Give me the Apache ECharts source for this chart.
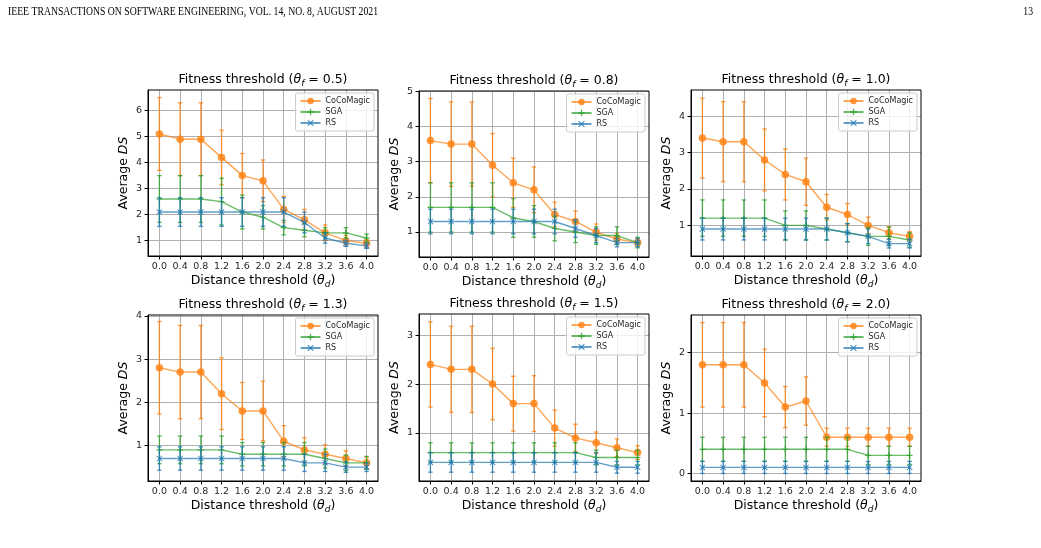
<!DOCTYPE html>
<html>
<head>
<meta charset="utf-8">
<script src="https://cdn.jsdelivr.net/npm/echarts@6/dist/echarts.min.js"></script>
<style>
  html, body { margin: 0; padding: 0; background: #fff; }
  #chart { width: 1041px; height: 548px; }
</style>
</head>
<body>
<div id="chart"></div>
<script>
// distance threshold (x axis) and fitness threshold per panel
const distances = [0.0, 0.4, 0.8, 1.2, 1.6, 2.0, 2.4, 2.8, 3.2, 3.6, 4.0]
const fitnessThresholds = ['0.5', '0.8', '1.0', '1.3', '1.5', '2.0']
const yTicks = [[1, 2, 3, 4, 5, 6], [1, 2, 3, 4, 5], [1, 2, 3, 4], [1, 2, 3, 4], [0, 1, 2, 3], [0, 1, 2]]

// one row per panel
const cocoMeans = [
  [5.1, 4.9, 4.9, 4.2, 3.5, 3.3, 2.2, 1.8, 1.3, 1.0, 0.9],
  [3.6, 3.5, 3.5, 2.9, 2.4, 2.2, 1.5, 1.3, 1.0, 0.8, 0.7],
  [3.4, 3.3, 3.3, 2.8, 2.4, 2.2, 1.5, 1.3, 1.0, 0.8, 0.7],
  [2.8, 2.7, 2.7, 2.2, 1.8, 1.8, 1.1, 0.9, 0.8, 0.7, 0.6],
  [2.4, 2.3, 2.3, 2.0, 1.6, 1.6, 1.1, 0.9, 0.8, 0.7, 0.6],
  [1.8, 1.8, 1.8, 1.5, 1.1, 1.2, 0.6, 0.6, 0.6, 0.6, 0.6]
]
const cocoErrs = [
  [1.4, 1.4, 1.4, 1.05, 0.85, 0.8, 0.5, 0.4, 0.3, 0.2, 0.15],
  [1.2, 1.2, 1.2, 0.9, 0.7, 0.65, 0.35, 0.3, 0.23, 0.15, 0.1],
  [1.1, 1.1, 1.1, 0.85, 0.7, 0.65, 0.35, 0.3, 0.23, 0.17, 0.13],
  [1.07, 1.08, 1.08, 0.83, 0.66, 0.69, 0.36, 0.28, 0.22, 0.18, 0.13],
  [0.87, 0.88, 0.88, 0.73, 0.56, 0.57, 0.37, 0.28, 0.22, 0.18, 0.14],
  [0.7, 0.7, 0.7, 0.56, 0.34, 0.4, 0.15, 0.15, 0.15, 0.15, 0.15]
]
const sgaMeans = [
  [2.6, 2.6, 2.6, 2.5, 2.1, 1.9, 1.5, 1.4, 1.3, 1.3, 1.1],
  [1.7, 1.7, 1.7, 1.7, 1.4, 1.3, 1.1, 1.0, 0.9, 0.9, 0.7],
  [1.2, 1.2, 1.2, 1.2, 1.0, 1.0, 0.9, 0.8, 0.7, 0.7, 0.6],
  [0.9, 0.9, 0.9, 0.9, 0.8, 0.8, 0.8, 0.8, 0.7, 0.6, 0.6],
  [0.6, 0.6, 0.6, 0.6, 0.6, 0.6, 0.6, 0.6, 0.5, 0.5, 0.5],
  [0.4, 0.4, 0.4, 0.4, 0.4, 0.4, 0.4, 0.4, 0.3, 0.3, 0.3]
]
const sgaErrs = [
  [0.9, 0.9, 0.9, 0.9, 0.65, 0.45, 0.28, 0.25, 0.2, 0.2, 0.15],
  [0.7, 0.7, 0.7, 0.7, 0.55, 0.45, 0.35, 0.3, 0.25, 0.25, 0.15],
  [0.5, 0.5, 0.5, 0.5, 0.4, 0.4, 0.3, 0.25, 0.25, 0.25, 0.2],
  [0.32, 0.32, 0.32, 0.32, 0.27, 0.27, 0.27, 0.27, 0.22, 0.18, 0.15],
  [0.2, 0.2, 0.2, 0.2, 0.2, 0.2, 0.2, 0.2, 0.15, 0.15, 0.15],
  [0.2, 0.2, 0.2, 0.2, 0.2, 0.2, 0.2, 0.2, 0.15, 0.15, 0.15]
]
const rsMeans = [
  [2.1, 2.1, 2.1, 2.1, 2.1, 2.1, 2.1, 1.7, 1.1, 0.9, 0.8],
  [1.3, 1.3, 1.3, 1.3, 1.3, 1.3, 1.3, 1.1, 0.9, 0.7, 0.7],
  [0.9, 0.9, 0.9, 0.9, 0.9, 0.9, 0.9, 0.8, 0.7, 0.5, 0.5],
  [0.7, 0.7, 0.7, 0.7, 0.7, 0.7, 0.7, 0.6, 0.6, 0.5, 0.5],
  [0.4, 0.4, 0.4, 0.4, 0.4, 0.4, 0.4, 0.4, 0.4, 0.3, 0.3],
  [0.1, 0.1, 0.1, 0.1, 0.1, 0.1, 0.1, 0.1, 0.1, 0.1, 0.1]
]
const rsErrs = [
  [0.55, 0.55, 0.55, 0.55, 0.55, 0.55, 0.55, 0.4, 0.2, 0.12, 0.1],
  [0.35, 0.35, 0.35, 0.35, 0.35, 0.35, 0.35, 0.25, 0.2, 0.12, 0.12],
  [0.3, 0.3, 0.3, 0.3, 0.3, 0.3, 0.3, 0.25, 0.2, 0.12, 0.12],
  [0.27, 0.27, 0.27, 0.27, 0.27, 0.27, 0.27, 0.2, 0.2, 0.12, 0.1],
  [0.2, 0.2, 0.2, 0.2, 0.2, 0.2, 0.2, 0.2, 0.2, 0.12, 0.12],
  [0.1, 0.1, 0.1, 0.1, 0.1, 0.1, 0.1, 0.1, 0.1, 0.1, 0.1]
]

const chart = echarts.init(document.getElementById('chart'), null, { renderer: 'canvas' })

const FONT = 'DejaVu Sans'
const TXT = '#262626'
// plot boxes: [left, top, width, height]
const boxes = [
  [148, 90, 230, 166], [419, 91, 230, 166], [691, 90, 230, 166],
  [148, 315, 230, 166], [419, 314, 230, 167], [691, 315, 230, 166]
]
const yRanges = [[0.41, 6.79], [0.29, 5.01], [0.16, 4.72], [0.18, 4.02], [0.02, 3.43], [-0.125, 2.625]]

const methods = [
  { name: 'CoCoMagic', color: '#ff7f0e', means: cocoMeans, errs: cocoErrs, symbol: 'circle', size: 7.5 },
  { name: 'SGA', color: '#2ca02c', means: sgaMeans, errs: sgaErrs,
    symbol: 'path://M4,0 L6,0 L6,4 L10,4 L10,6 L6,6 L6,10 L4,10 L4,6 L0,6 L0,4 L4,4 Z', size: 6 },
  { name: 'RS', color: '#1f77b4', means: rsMeans, errs: rsErrs,
    symbol: 'path://M1,0 L5,3.6 L9,0 L10,1 L6.4,5 L10,9 L9,10 L5,6.4 L1,10 L0,9 L3.6,5 L0,1 Z', size: 6 }
]

const richTitle = {
  n: { fontFamily: FONT, fontSize: 12.5, color: '#000', lineHeight: 16 },
  it: { fontFamily: FONT, fontSize: 12.5, fontStyle: 'italic', color: '#000', lineHeight: 16 },
  sub: { fontFamily: FONT, fontSize: 9, fontStyle: 'italic', color: '#000', lineHeight: 9, verticalAlign: 'bottom' }
}

const grid = [], xAxis = [], yAxis = [], series = [], legend = [], graphic = []

boxes.forEach((b, p) => {
  grid.push({ left: b[0], top: b[1], width: b[2], height: b[3], show: false })
  xAxis.push({
    type: 'value', gridIndex: p, min: -0.22, max: 4.22,
    name: '{n|Distance threshold (}{it|θ}{sub|d}{n|)}',
    nameLocation: 'middle', nameGap: 17,
    nameTextStyle: { rich: richTitle },
    axisLine: { show: true, onZero: false, lineStyle: { color: '#000', width: 1 } },
    axisTick: { show: true, length: 3.5, customValues: distances, lineStyle: { color: '#000' } },
    axisLabel: {
      customValues: distances, margin: 6, fontFamily: FONT, fontSize: 9.5, color: TXT,
      formatter: v => v.toFixed(1)
    },
    splitLine: { show: true, lineStyle: { color: '#b0b0b0', width: 1 } }
  })
  yAxis.push({
    type: 'value', gridIndex: p, min: yRanges[p][0], max: yRanges[p][1],
    name: '{n|Average }{it|DS}',
    nameLocation: 'middle', nameGap: 16, nameRotate: 90,
    nameTextStyle: { rich: richTitle },
    axisLine: { show: true, onZero: false, lineStyle: { color: '#000', width: 1 } },
    axisTick: { show: true, length: 3.5, customValues: yTicks[p], lineStyle: { color: '#000' } },
    axisLabel: { customValues: yTicks[p], margin: 6, fontFamily: FONT, fontSize: 9.5, color: TXT },
    splitLine: { show: true, lineStyle: { color: '#b0b0b0', width: 1 } }
  })
  // right & top spines
  graphic.push({
    type: 'rect', z: 100, silent: true,
    shape: { x: b[0], y: b[1], width: b[2], height: b[3] },
    style: { fill: 'none', stroke: '#000', lineWidth: 1 }
  })
  // title
  graphic.push({
    type: 'text', z: 100,
    x: b[0] + b[2] / 2, y: b[1] - 10,
    style: {
      text: '{n|Fitness threshold (}{it|θ}{sub|f}{n| = ' + fitnessThresholds[p] + ')}',
      rich: richTitle, align: 'center', verticalAlign: 'middle'
    }
  })
  legend.push({
    orient: 'vertical', right: 1041 - (b[0] + b[2]) + 4, top: b[1] + 3,
    data: methods.map(m => m.name),
    itemWidth: 20, itemHeight: 8, itemGap: 3,
    padding: [4, 4, 4, 4],
    borderColor: '#cccccc', borderWidth: 1, borderRadius: 2,
    backgroundColor: 'rgba(255,255,255,0.8)',
    textStyle: { fontFamily: FONT, fontSize: 8, color: TXT },
    selectedMode: false
  })

  methods.forEach((m, k) => {
    const z = 3 + k
    series.push({
      type: 'custom', xAxisIndex: p, yAxisIndex: p, z: z, silent: true,
      data: distances.map((d, i) => [d, m.means[p][i] - m.errs[p][i], m.means[p][i] + m.errs[p][i]]),
      encode: { x: 0, y: [1, 2] },
      renderItem: (params, api) => {
        const x = api.value(0)
        const lo = api.coord([x, api.value(1)])
        const hi = api.coord([x, api.value(2)])
        const w = 2.2
        const st = { stroke: m.color, lineWidth: 1.3, opacity: 0.8 }
        return {
          type: 'group',
          children: [
            { type: 'line', shape: { x1: lo[0], y1: lo[1], x2: hi[0], y2: hi[1] }, style: st },
            { type: 'line', shape: { x1: lo[0] - w, y1: lo[1], x2: lo[0] + w, y2: lo[1] }, style: st },
            { type: 'line', shape: { x1: hi[0] - w, y1: hi[1], x2: hi[0] + w, y2: hi[1] }, style: st }
          ]
        }
      }
    })
    series.push({
      name: m.name, type: 'line', xAxisIndex: p, yAxisIndex: p, z: z,
      data: distances.map((d, i) => [d, m.means[p][i]]),
      symbol: m.symbol, symbolSize: m.size, showSymbol: true,
      lineStyle: { color: m.color, width: 1.4, opacity: 0.7 },
      itemStyle: { color: m.color, opacity: 0.8 },
      emphasis: { disabled: true },
      animation: false
    })
  })
})

// page header, squeezed to the width it has on the page
const header = 'IEEE TRANSACTIONS ON SOFTWARE ENGINEERING, VOL. 14, NO. 8, AUGUST 2021'
const headFont = '12.5px "Liberation Serif"'
const ctx = document.createElement('canvas').getContext('2d')
ctx.font = headFont
const headerScale = 370 / ctx.measureText(header).width
graphic.push({
  type: 'text', x: 8, y: 12, scaleX: headerScale,
  style: { text: header, font: headFont, fill: '#000', verticalAlign: 'middle' }
})
graphic.push({
  type: 'text', x: 1033, y: 12, scaleX: headerScale,
  style: { text: '13', font: headFont, fill: '#000', align: 'right', verticalAlign: 'middle' }
})

chart.setOption({
  backgroundColor: '#fff',
  animation: false,
  grid, xAxis, yAxis, series, legend, graphic
})
</script>
</body>
</html>
